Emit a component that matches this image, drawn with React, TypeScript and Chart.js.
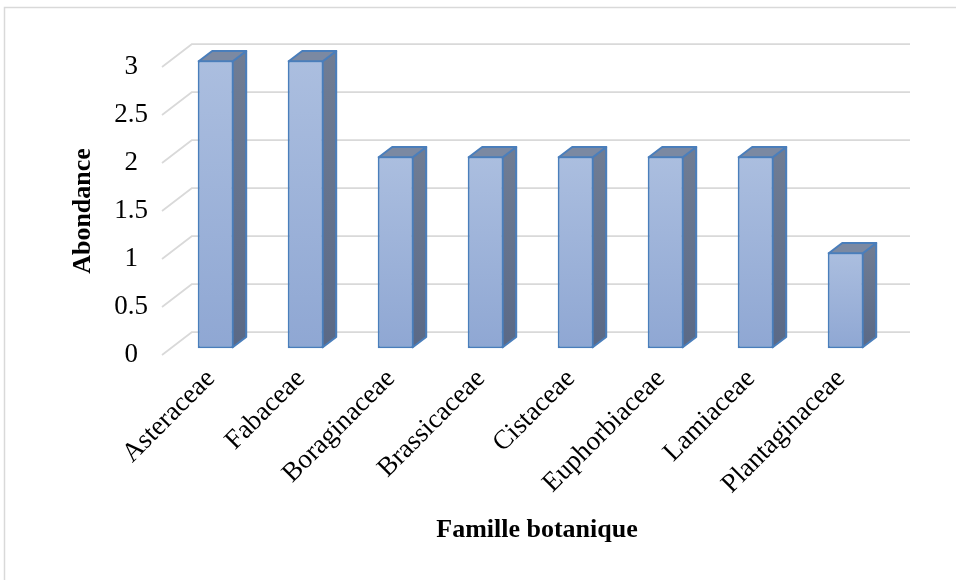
import React, { useEffect, useRef } from 'react';
import { Chart, registerables } from 'chart.js';

Chart.register(...registerables);

const categories = [
  'Asteraceae',
  'Fabaceae',
  'Boraginaceae',
  'Brassicaceae',
  'Cistaceae',
  'Euphorbiaceae',
  'Lamiaceae',
  'Plantaginaceae',
];
const abondance = [3, 3, 2, 2, 2, 2, 2, 1];
const yTickValues = [0, 0.5, 1, 1.5, 2, 2.5, 3];
const yAxisTitle = 'Abondance';
const xAxisTitle = 'Famille botanique';

// 3D projection (styling)
const DEPTH_X = 30;
const DEPTH_Y = 23;
const BAR_FRONT = 0.29;
const BAR_BACK = 0.74;
const FONT = "'Liberation Serif', 'Times New Roman', serif";

const excel3d = {
  id: 'excel3d',
  beforeDraw(chart: any) {
    const { ctx } = chart;
    ctx.save();
    ctx.strokeStyle = '#d9d9d9';
    ctx.lineWidth = 1.5;
    ctx.strokeRect(4.5, 7.5, 1200, 1200);
    ctx.restore();
  },
  beforeDatasetsDraw(chart: any) {
    const { ctx } = chart;
    const x = chart.scales.x;
    const y = chart.scales.y;
    ctx.save();
    ctx.strokeStyle = '#d9d9d9';
    ctx.lineWidth = 1.75;
    ctx.lineJoin = 'round';
    for (const v of yTickValues) {
      const py = y.getPixelForValue(v);
      ctx.beginPath();
      ctx.moveTo(x.left, py);
      ctx.lineTo(x.left + DEPTH_X, py - DEPTH_Y);
      ctx.lineTo(x.right + DEPTH_X - 2, py - DEPTH_Y);
      ctx.stroke();
    }
    ctx.restore();
    ctx.save();
    ctx.translate(DEPTH_X * BAR_FRONT, -DEPTH_Y * BAR_FRONT);
  },
  afterDatasetsDraw(chart: any) {
    const { ctx } = chart;
    ctx.restore();
    const meta = chart.getDatasetMeta(0);
    const tx = DEPTH_X * BAR_FRONT;
    const ty = -DEPTH_Y * BAR_FRONT;
    const dx = DEPTH_X * (BAR_BACK - BAR_FRONT);
    const dy = -DEPTH_Y * (BAR_BACK - BAR_FRONT);
    meta.data.forEach((bar: any) => {
      const { x, y, base, width } = bar.getProps(['x', 'y', 'base', 'width'], true);
      const l = x - width / 2 + tx + 1;
      const r = x + width / 2 + tx - 1;
      const t = y + ty + 1;
      const b = base + ty - 1;
      ctx.save();
      ctx.lineJoin = 'round';
      ctx.strokeStyle = '#4a7ebb';
      ctx.lineWidth = 2;
      // side face
      const g = ctx.createLinearGradient(0, t + dy, 0, b);
      g.addColorStop(0, '#707d94');
      g.addColorStop(1, '#5a6986');
      ctx.beginPath();
      ctx.moveTo(r, t);
      ctx.lineTo(r + dx, t + dy);
      ctx.lineTo(r + dx, b + dy);
      ctx.lineTo(r, b);
      ctx.closePath();
      ctx.fillStyle = g;
      ctx.fill();
      ctx.stroke();
      // top face
      ctx.beginPath();
      ctx.moveTo(l, t);
      ctx.lineTo(l + dx, t + dy);
      ctx.lineTo(r + dx, t + dy);
      ctx.lineTo(r, t);
      ctx.closePath();
      ctx.fillStyle = '#7b89a2';
      ctx.fill();
      ctx.stroke();
      ctx.restore();
    });
  },
  afterDraw(chart: any) {
    const { ctx } = chart;
    const x = chart.scales.x;
    ctx.save();
    ctx.fillStyle = '#000';
    ctx.font = `bold 26px ${FONT}`;
    ctx.textAlign = 'center';
    ctx.textBaseline = 'middle';
    ctx.fillText(xAxisTitle, (x.left + x.right + DEPTH_X) / 2, 530);
    ctx.restore();
  },
};

export default function App() {
  const canvasRef = useRef<HTMLCanvasElement | null>(null);

  useEffect(() => {
    const canvas = canvasRef.current;
    if (!canvas) return;
    const chart = new Chart(canvas, {
      type: 'bar',
      data: {
        labels: categories,
        datasets: [
          {
            label: yAxisTitle,
            data: abondance,
            backgroundColor: (c: any) => {
              const ch = c.chart;
              if (!ch.chartArea || c.type !== 'data') return '#9db2d9';
              const ys = ch.scales.y;
              const top = ys.getPixelForValue(c.raw);
              const bottom = ys.getPixelForValue(0);
              const grad = ch.ctx.createLinearGradient(0, top, 0, bottom);
              grad.addColorStop(0, '#abbedf');
              grad.addColorStop(1, '#8fa7d3');
              return grad;
            },
            borderColor: '#4a7ebb',
            borderWidth: 2,
            borderSkipped: false,
            barPercentage: 0.4,
            categoryPercentage: 1,
            clip: false as any,
          },
        ],
      },
      options: {
        responsive: false,
        animation: false,
        devicePixelRatio: 1,
        layout: { padding: { left: 64, right: 74, top: 67, bottom: 0 } },
        plugins: {
          legend: { display: false },
          tooltip: { enabled: false },
          title: { display: false },
        },
        scales: {
          x: {
            grid: { display: false },
            border: { display: false },
            ticks: {
              autoSkip: false,
              minRotation: 45,
              maxRotation: 45,
              padding: 0,
              labelOffset: 4,
              color: '#000',
              font: { family: FONT, size: 27 },
            },
            afterFit: (scale: any) => {
              scale.height = 225;
            },
          },
          y: {
            min: 0,
            max: 3,
            grid: { display: false },
            border: { display: false },
            afterBuildTicks: (scale: any) => {
              scale.ticks = yTickValues.map((v) => ({ value: v }));
            },
            ticks: {
              crossAlign: 'center',
              padding: 6,
              color: '#000',
              font: { family: FONT, size: 27 },
              callback: (v: any) => String(v),
            },
            title: {
              display: true,
              text: yAxisTitle,
              color: '#000',
              font: { family: FONT, size: 26, weight: 'bold' },
              padding: { top: 4, bottom: 4 },
            },
            afterFit: (scale: any) => {
              scale.width = 98;
            },
          },
        },
      },
      plugins: [excel3d],
    });
    return () => chart.destroy();
  }, []);

  return (
    <div style={{ position: 'absolute', left: 0, top: 0, width: 956, height: 580, background: '#fff' }}>
      <canvas ref={canvasRef} width={956} height={580} style={{ display: 'block' }} />
    </div>
  );
}
